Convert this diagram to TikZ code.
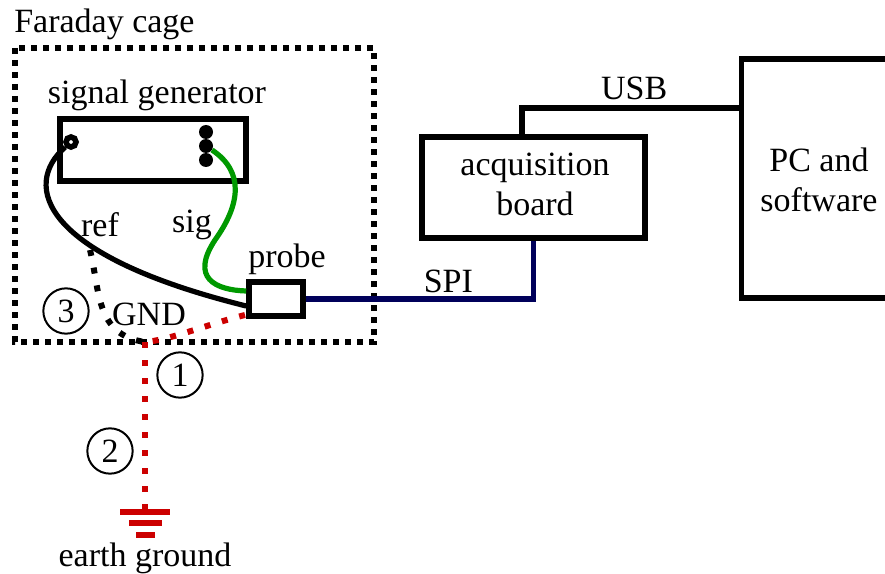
\documentclass[tikz,border=0pt]{standalone}
\usepackage{xcolor}
\usepackage{fontspec}
\setmainfont{Liberation Serif}
\usepackage{tikz}
\usetikzlibrary{
  positioning,
  calc
}
\definecolor{sigGreen}{RGB}{0,153,0}
\definecolor{gndRed}{RGB}{204,0,0}
\definecolor{spiBlue}{RGB}{0,0,90}
\tikzset{
  box/.style={draw,line width=4.2pt,inner sep=0pt,align=center},
  lbl/.style={inner sep=0pt,align=center},
  num/.style={draw,circle,line width=1.5pt,inner sep=0pt,minimum size=34pt},
  wire/.style={line width=3.9pt},
  cagedots/.style={line width=4.5pt,dash pattern=on 4.5pt off 4.5pt},
  gnddots/.style={line width=4.5pt,dash pattern=on 4.5pt off 9pt},
  port/.style={fill,circle,inner sep=0pt,minimum size=10.5pt}
}
\begin{document}
\begin{tikzpicture}[x=0.75pt,y=-0.75pt,font=\fontsize{25.5}{30.5}\selectfont]
  \useasboundingbox (0,0) rectangle (885,574);
  % Faraday cage
  \node[lbl,anchor=west] (cagelabel) at (14,24) {Faraday cage};
  \draw[cagedots] (15,48) rectangle (374,342);
  % ボックス
  \node[box,minimum width=139.5pt,minimum height=46.5pt] (gen) at (153,150) {};
  \node[lbl] (genlabel) at (157,95) {signal generator};
  \node[box,minimum width=167pt,minimum height=75.5pt] (board) at (533.5,187.5) {};
  \node[lbl] (boardlabel) at (535,184.5) {acquisition\\board};
  \node[box,minimum width=116pt,minimum height=179pt] (pc) at (819,178.5) {};
  \node[lbl] (pclabel) at (819,180) {PC and\\software};
  \node[box,minimum width=40.5pt,minimum height=25.5pt] (probe) at (276,299) {};
  \node[lbl] (probelabel) at (287,259) {probe};
  % 端子
  \node[port] (sigtop) at (206,132) {};
  \node[port] (sigmid) at (206,146) {};
  \node[port] (sigbot) at (206,160) {};
  \node[draw,circle,line width=4.2pt,inner sep=0pt,minimum size=7.5pt] (refport) at (71,142) {};
  % 配線
  \coordinate (usbstart) at (522,137);
  \coordinate (usbend) at (742,108);
  \draw[wire] (usbstart) |- (usbend) node[lbl,pos=0.755,above=4pt] (usblabel) {USB};
  \draw[wire,spiBlue] (board.south) |- (probe.east) node[lbl,pos=0.687,above=3pt,text=black] (spilabel) {SPI};
  \draw[wire,sigGreen] (sigmid) .. controls (245,172) and (240,205) .. (215,240)
    .. controls (190,278) and (215,290) .. (probe.west |- 0,291);
  \draw[wire] (refport) .. controls (22,185) and (40,255) .. (probe.west |- 0,306);
  % GND
  \coordinate (refjoin) at (90,250);
  \coordinate (gndjoin) at (145,342);
  \coordinate (probegnd) at (245,315);
  \coordinate (earth) at (145,510);
  \draw[gnddots,black] (refjoin) .. controls (100,290) and (95,335) .. (gndjoin);
  \draw[gnddots,gndRed] (probegnd) .. controls (205,325) and (170,340) .. (gndjoin);
  \draw[gnddots,gndRed] (gndjoin) -- (earth);
  \draw[wire,gndRed] (120,512) -- (170,512);
  \draw[wire,gndRed] (129,523) -- (162,523);
  \draw[wire,gndRed] (136,535) -- (155,535);
  % ラベル
  \node[lbl] (reflabel) at (100,225) {ref};
  \node[lbl] (siglabel) at (192,225) {sig};
  \node[lbl] (gndlabel) at (149,314) {GND};
  \node[lbl] (earthlabel) at (145,558) {earth ground};
  \node[num] (numthree) at (66,311) {3};
  \node[num] (numone) at (180,375) {1};
  \node[num] (numtwo) at (110,451) {2};
\end{tikzpicture}
\end{document}
